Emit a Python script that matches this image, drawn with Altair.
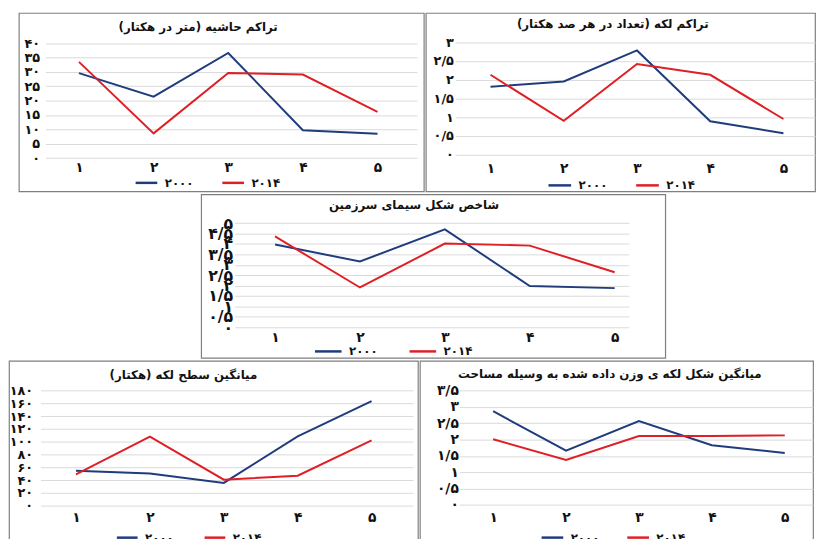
import altair as alt
import pandas as pd

# ---------------- data ----------------
categories = [1, 2, 3, 4, 5]
category_labels = ["۱", "۲", "۳", "۴", "۵"]
series_names = ["۲۰۰۰", "۲۰۱۴"]
series_colors = ["#1f3c7c", "#df1f26"]

title_edge = "تراکم حاشیه (متر در هکتار)"
title_patch = "تراکم لکه (تعداد در هر صد هکتار)"
title_shape = "شاخص شکل سیمای سرزمین"
title_area = "میانگین سطح لکه (هکتار)"
title_awm = "میانگین شکل لکه ی وزن داده شده به وسیله مساحت"

edge_2000 = [29.6, 21.4, 36.6, 9.7, 8.5]
edge_2014 = [33.5, 8.6, 29.6, 29.1, 16.1]
patch_2000 = [1.81, 1.95, 2.78, 0.89, 0.57]
patch_2014 = [2.13, 0.90, 2.42, 2.13, 0.95]
shape_2000 = [3.97, 3.16, 4.70, 1.98, 1.88]
shape_2014 = [4.36, 1.91, 4.02, 3.92, 2.64]
area_2000 = [54.5, 50.4, 35.5, 108.5, 163.5]
area_2014 = [48.9, 108.0, 40.6, 46.8, 102.3]
awm_2000 = [2.87, 1.66, 2.57, 1.83, 1.59]
awm_2014 = [2.01, 1.38, 2.11, 2.11, 2.13]

ticks_edge = [0, 5, 10, 15, 20, 25, 30, 35, 40]
labels_edge = ["۰", "۵", "۱۰", "۱۵", "۲۰", "۲۵", "۳۰", "۳۵", "۴۰"]
ticks_patch = [0, 0.5, 1, 1.5, 2, 2.5, 3]
labels_patch = ["۰", "۰/۵", "۱", "۱/۵", "۲", "۲/۵", "۳"]
ticks_shape = [0, 0.5, 1, 1.5, 2, 2.5, 3, 3.5, 4, 4.5, 5]
labels_shape = ["۰", "۰/۵", "۱", "۱/۵", "۲", "۲/۵", "۳", "۳/۵", "۴", "۴/۵", "۵"]
ticks_area = [0, 20, 40, 60, 80, 100, 120, 140, 160, 180]
labels_area = ["۰", "۲۰", "۴۰", "۶۰", "۸۰", "۱۰۰", "۱۲۰", "۱۴۰", "۱۶۰", "۱۸۰"]
ticks_awm = [0, 0.5, 1, 1.5, 2, 2.5, 3, 3.5]
labels_awm = ["۰", "۰/۵", "۱", "۱/۵", "۲", "۲/۵", "۳", "۳/۵"]

# ---------------- styling / layout ----------------
FONT = "DejaVu Sans"
RLM = "\u200f"


def label_expr(values, labels):
    arr_l = "[" + ",".join("'" + l + "'" for l in labels) + "]"
    arr_v = "[" + ",".join(str(v) for v in values) + "]"
    return arr_l + "[indexof(" + arr_v + ", datum.value)]"


def panel(title, s2000, s2014, ticks, tick_labels, lay):
    df = pd.DataFrame({
        "x": categories + categories,
        "v": list(s2000) + list(s2014),
        "s": [series_names[0]] * len(categories) + [series_names[1]] * len(categories),
    })
    lines = alt.Chart(df).mark_line(strokeWidth=2).encode(
        x=alt.X(
            "x:Q",
            scale=alt.Scale(domain=lay["xd"], range=lay["xr"], nice=False, zero=False),
            axis=alt.Axis(
                values=categories, labelExpr=label_expr(categories, category_labels),
                offset=lay["xo"], grid=False, ticks=False, domain=False, title=None,
                labelFont=FONT, labelFontSize=14, labelFontWeight="bold", labelColor="#111111",
                labelPadding=2, labelFlush=False, labelOverlap=False,
            ),
        ),
        y=alt.Y(
            "v:Q",
            scale=alt.Scale(domain=[ticks[0], ticks[-1]], range=lay["yr"], nice=False, zero=False),
            axis=alt.Axis(
                values=ticks, labelExpr=label_expr(ticks, tick_labels),
                offset=lay["yo"], grid=True, gridColor="#d9d9d9", gridWidth=1,
                ticks=False, domain=False, title=None,
                labelFont=FONT, labelFontSize=lay.get("yfs", 13), labelFontWeight="bold",
                labelColor="#111111", labelPadding=2, labelFlush=False, labelOverlap=False,
            ),
        ),
        color=alt.Color(
            "s:N",
            scale=alt.Scale(domain=series_names, range=series_colors),
            legend=alt.Legend(
                orient="none", legendX=lay["lx"], legendY=lay["ly"], direction="horizontal",
                columns=2, title=None, symbolType="stroke", symbolSize=lay["sym"] ** 2,
                symbolStrokeWidth=2.5, labelFont=FONT, labelFontSize=12, labelFontWeight="bold",
                labelColor="#111111", labelOffset=6, columnPadding=lay["cp"], padding=0,
            ),
        ),
    )
    ttl = alt.Chart(pd.DataFrame({"t": [RLM + title + RLM]})).mark_text(
        font=FONT, fontSize=12, fontWeight="bold", color="#111111",
        align="center", baseline="middle",
    ).encode(text="t:N", x=alt.value(lay["tx"]), y=alt.value(lay["ty"]))
    return alt.layer(lines, ttl).properties(width=lay["W"], height=lay["H"])


def spacer(w, h):
    return alt.Chart(pd.DataFrame({"a": [0]})).mark_point(opacity=0, size=1).properties(
        width=w, height=h, view=alt.ViewBackground(stroke="transparent")
    )


lay1 = dict(W=411, H=181, xd=[0.551, 5.528], xr=[27, 404], yr=[147.3, 30.7], xo=-33, yo=-23,
            tx=182, ty=14.3, lx=117, ly=159.7, sym=22, cp=23)
lay2 = dict(W=395, H=181, xd=[0.520, 5.431], xr=[30, 395], yr=[143.7, 29.7], xo=-32, yo=-30,
            tx=189.7, ty=11, lx=123, ly=162, sym=23, cp=23)
lay3 = dict(W=471, H=166, xd=[0.524, 5.166], xr=[34, 434], yr=[135, 29.3], xo=-30, yo=-34,
            tx=216, ty=11, lx=114, ly=144.5, sym=27, cp=26, yfs=16)
lay4 = dict(W=415, H=185, xd=[0.52, 5.56], xr=[32, 410], yr=[147, 30.3], xo=-35, yo=-26,
            tx=177, ty=14, lx=108, ly=167.5, sym=21, cp=25)
lay5 = dict(W=399, H=185, xd=[0.536, 5.388], xr=[40, 399], yr=[146.3, 30.3], xo=-35, yo=-41,
            tx=192.8, ty=13, lx=122, ly=166.7, sym=22, cp=22, yfs=14)

p1 = panel(title_edge, edge_2000, edge_2014, ticks_edge, labels_edge, lay1)
p2 = panel(title_patch, patch_2000, patch_2014, ticks_patch, labels_patch, lay2)
p3 = panel(title_shape, shape_2000, shape_2014, ticks_shape, labels_shape, lay3)
p4 = panel(title_area, area_2000, area_2014, ticks_area, labels_area, lay4)
p5 = panel(title_awm, awm_2000, awm_2014, ticks_awm, labels_awm, lay5)


def indep(c):
    return c.resolve_scale(color="independent").resolve_legend(color="independent")


row1 = indep(alt.hconcat(spacer(8, 181), p1, p2, spacing=0))
row2 = indep(alt.hconcat(spacer(193, 166), p3, spacing=0))
row3 = indep(alt.hconcat(p4, p5, spacing=0))

chart = indep(alt.vconcat(row1, row2, row3, spacing=1)).properties(
    padding={"left": 0, "top": 0, "right": 0, "bottom": 0},
    background="white",
).configure_view(stroke="#7f7f7f", strokeWidth=1.2)

chart.save("out.html", embed_options={"renderer": "svg", "actions": False})
